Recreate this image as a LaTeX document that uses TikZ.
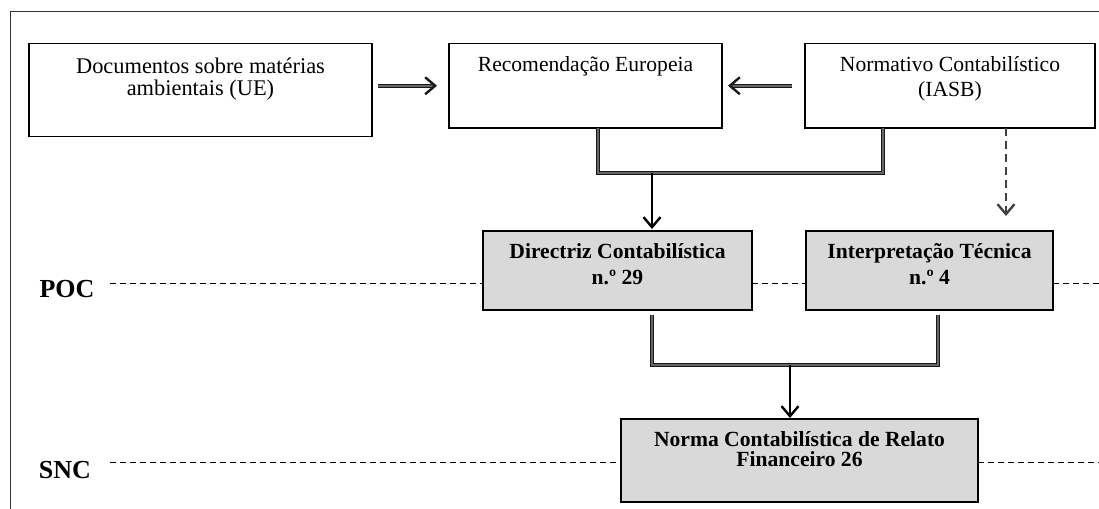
\documentclass[tikz,border=0pt]{standalone}
\usepackage{fontspec}
\setmainfont{Liberation Serif}
\usetikzlibrary{arrows.meta,positioning}

\begin{document}
\begin{tikzpicture}[x=0.5pt,y=-0.5pt,
    box/.style={draw=black, line width=0.6pt, outer sep=0pt, inner sep=0pt},
    greybox/.style={box, fill=black!15},
    txt/.style={align=center, inner sep=0pt, anchor=base, font=\fontsize{10.8}{10}\selectfont},
    btxt/.style={txt, font=\fontsize{10.8}{13}\selectfont\bfseries},
    lvl/.style={inner sep=0pt, anchor=base, font=\fontsize{13}{15}\selectfont\bfseries},
    hatch/.style={draw=black!90, line width=0.5pt, double=black!60, double distance=1pt},
    barb/.style={-{Straight Barb[length=5pt,width=8.5pt,line width=1.2pt]}},
    plainarrow/.style={draw=black, line width=0.75pt, barb},
    dasharrow/.style={draw=black!75, line width=0.8pt, dash pattern=on 4pt off 2.5pt, barb},
    sep/.style={draw=black, line width=0.5pt, dash pattern=on 3pt off 2pt}]
    \useasboundingbox (0,0) rectangle (1099,509);

    % outer frame
    \draw[black!80, line width=0.6pt] (10.5,509) -- (10.5,11.7) -- (1099,11.7);

    % boxes
    \node[box, minimum width=171.5pt, minimum height=46.5pt] (doc) at (200.5,90) {};
    \node[box, minimum width=136.5pt, minimum height=42.25pt] (rec) at (585.5,85.75) {};
    \node[box, minimum width=145pt, minimum height=42.25pt] (iasb) at (950,85.75) {};
    \node[greybox, minimum width=134.5pt, minimum height=39.5pt] (dc) at (617.5,270.5) {};
    \node[greybox, minimum width=123.5pt, minimum height=39.5pt] (it) at (929.5,270.5) {};
    \node[greybox, minimum width=178.5pt, minimum height=41.5pt] (ncrf) at (799.5,460.5) {};

    % texts (base = last line)
    \node[txt, font=\fontsize{11.2}{11}\selectfont] (doc-t) at (200.5,95) {Documentos sobre matérias\\ambientais (UE)};
    \node[txt] (rec-t) at (585.5,71.7) {Recomendação Europeia};
    \node[txt, font=\fontsize{10.8}{12.5}\selectfont] (iasb-t) at (950,96.7) {Normativo Contabilístico\\(IASB)};
    \node[btxt] (dc-t) at (617.5,284.3) {Directriz Contabilística\\n.º 29};
    \node[btxt] (it-t) at (929.5,284.3) {Interpretação Técnica\\n.º 4};
    \node[btxt, font=\fontsize{10.8}{10}\selectfont\bfseries] (ncrf-t) at (799.5,466.7) {Norma Contabilística de Relato\\Financeiro 26};

    \node[lvl] (poc) at (67,297) {POC};
    \node[lvl] (snc) at (65,478) {SNC};

    % helper points
    \coordinate (b1) at (598,0);
    \coordinate (c1) at (883,0);
    \coordinate (d1) at (1006,0);
    \coordinate (e1) at (938,0);
    \coordinate (j1) at (652,173);
    \coordinate (j2) at (790,365);
    \coordinate (poc-l) at (110,283);
    \coordinate (poc-r) at (1099,283);
    \coordinate (snc-l) at (110,462);
    \coordinate (snc-r) at (1099,462);

    % arrows between the top boxes
    \draw[hatch, barb, shorten <=3pt, shorten >=6pt] (doc.east |- rec.west) -- (rec.west);
    \draw[hatch, barb, shorten <=6.5pt, shorten >=3pt] (iasb.west) -- (rec.east);

    % into Directriz
    \draw[hatch] (rec.south -| b1) |- (j1) -| (iasb.south -| c1);
    \draw[plainarrow, shorten >=1pt] (j1) -- (dc.north -| j1);

    % into Interpretacao
    \draw[dasharrow, shorten >=7.5pt] (iasb.south -| d1) -- (it.north -| d1);

    % into NCRF
    \draw[hatch] ([yshift=-2.5pt]dc.south -| j1) |- (j2) -| ([yshift=-2.5pt]it.south -| e1);
    \draw[plainarrow, shorten >=0.5pt] (j2) -- (ncrf.north -| j2);

    % level lines
    \draw[sep] (poc-l) -- (dc.west |- poc-l);
    \draw[sep] (dc.east |- poc-l) -- (it.west |- poc-l);
    \draw[sep] (it.east |- poc-l) -- (poc-r);
    \draw[sep] (snc-l) -- (ncrf.west |- snc-l);
    \draw[sep] (ncrf.east |- snc-l) -- (snc-r);
\end{tikzpicture}
\end{document}
